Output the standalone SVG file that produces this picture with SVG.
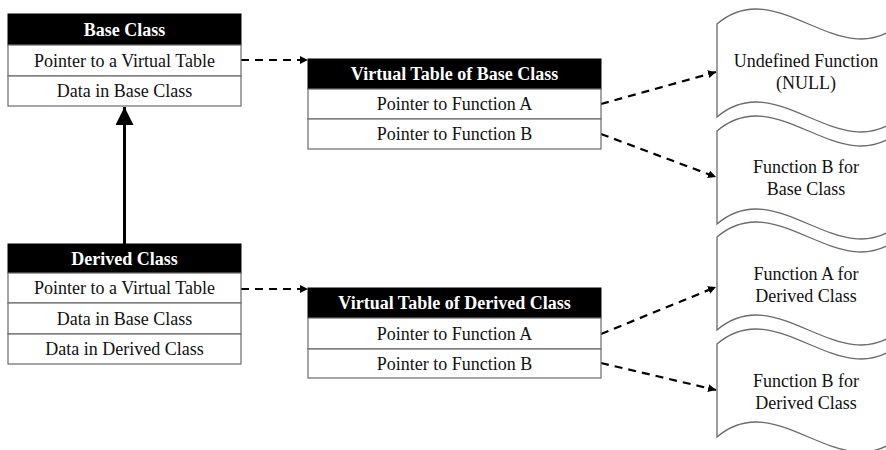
<svg xmlns="http://www.w3.org/2000/svg" width="886" height="450" viewBox="0 0 886 450">
<style>
text{font-family:"Liberation Serif","Times New Roman",serif;font-size:18px;text-anchor:middle;fill:#111}
.h{fill:#000;stroke:#000;stroke-width:1}
.hd{font-weight:bold;fill:#fff}
.row{fill:#fff;stroke:#6a6a6a;stroke-width:1.2}
.wave{fill:#fff;stroke:#6a6a6a;stroke-width:1.3}
.dash{fill:none;stroke:#000;stroke-width:2.2;stroke-dasharray:8 6}
.solid{fill:none;stroke:#000;stroke-width:3}
</style>
<defs>
<marker id="ah" markerUnits="userSpaceOnUse" markerWidth="10" markerHeight="8" refX="8" refY="4" orient="auto">
<path d="M0,0 L8,4 L0,8 Z" fill="#000"/>
</marker>
<marker id="big" markerUnits="userSpaceOnUse" markerWidth="20" markerHeight="18" refX="18" refY="9" orient="auto">
<path d="M0,0 L18,9 L0,18 Z" fill="#000"/>
</marker>
</defs>

<g id="connectors">
<path class="solid" d="M124.5,244 L124.5,107" marker-end="url(#big)"/>
<path class="dash" d="M241,60 L308,60" marker-end="url(#ah)"/>
<path class="dash" d="M241,289 L308,289" marker-end="url(#ah)"/>
<path class="dash" d="M601,104 L716,72" marker-end="url(#ah)"/>
<path class="dash" d="M601,134 L716,177" marker-end="url(#ah)"/>
<path class="dash" d="M601,334 L716,287" marker-end="url(#ah)"/>
<path class="dash" d="M601,363 L716,390" marker-end="url(#ah)"/>
</g>

<g id="base-class">
<rect class="h" x="8" y="14" width="233" height="31"/>
<text class="hd" x="124.5" y="35.5">Base Class</text>
<rect class="row" x="8" y="45" width="233" height="31"/>
<text x="124.5" y="66.5">Pointer to a Virtual Table</text>
<rect class="row" x="8" y="76" width="233" height="30"/>
<text x="124.5" y="97">Data in Base Class</text>
</g>

<g id="derived-class">
<rect class="h" x="8" y="244" width="233" height="29"/>
<text class="hd" x="124.5" y="264.5">Derived Class</text>
<rect class="row" x="8" y="273" width="233" height="30"/>
<text x="124.5" y="294">Pointer to a Virtual Table</text>
<rect class="row" x="8" y="303" width="233" height="31"/>
<text x="124.5" y="324.5">Data in Base Class</text>
<rect class="row" x="8" y="334" width="233" height="30"/>
<text x="124.5" y="355">Data in Derived Class</text>
</g>

<g id="vtable-base">
<rect class="h" x="308" y="59" width="293" height="30"/>
<text class="hd" x="454.5" y="80">Virtual Table of Base Class</text>
<rect class="row" x="308" y="89" width="293" height="30"/>
<text x="454.5" y="110">Pointer to Function A</text>
<rect class="row" x="308" y="119" width="293" height="30"/>
<text x="454.5" y="140">Pointer to Function B</text>
</g>

<g id="vtable-derived">
<rect class="h" x="308" y="288" width="293" height="30"/>
<text class="hd" x="454.5" y="309">Virtual Table of Derived Class</text>
<rect class="row" x="308" y="318" width="293" height="31"/>
<text x="454.5" y="339.5">Pointer to Function A</text>
<rect class="row" x="308" y="349" width="293" height="29"/>
<text x="454.5" y="369.5">Pointer to Function B</text>
</g>

<g id="fn-undefined">
<path class="wave" d="M717,24 C778,-28 839,76 900,24 L900,117 C839,169 778,65 717,117 Z"/>
<text x="806" y="67">Undefined Function</text>
<text x="806" y="89">(NULL)</text>
</g>

<g id="fn-b-base">
<path class="wave" d="M717,131 C778,79 839,183 900,131 L900,224 C839,276 778,172 717,224 Z"/>
<text x="806" y="173">Function B for</text>
<text x="806" y="195">Base Class</text>
</g>

<g id="fn-a-derived">
<path class="wave" d="M717,237 C778,185 839,289 900,237 L900,330 C839,382 778,278 717,330 Z"/>
<text x="806" y="280">Function A for</text>
<text x="806" y="302">Derived Class</text>
</g>

<g id="fn-b-derived">
<path class="wave" d="M717,344 C778,292 839,396 900,344 L900,437 C839,489 778,385 717,437 Z"/>
<text x="806" y="387">Function B for</text>
<text x="806" y="409">Derived Class</text>
</g>
</svg>
